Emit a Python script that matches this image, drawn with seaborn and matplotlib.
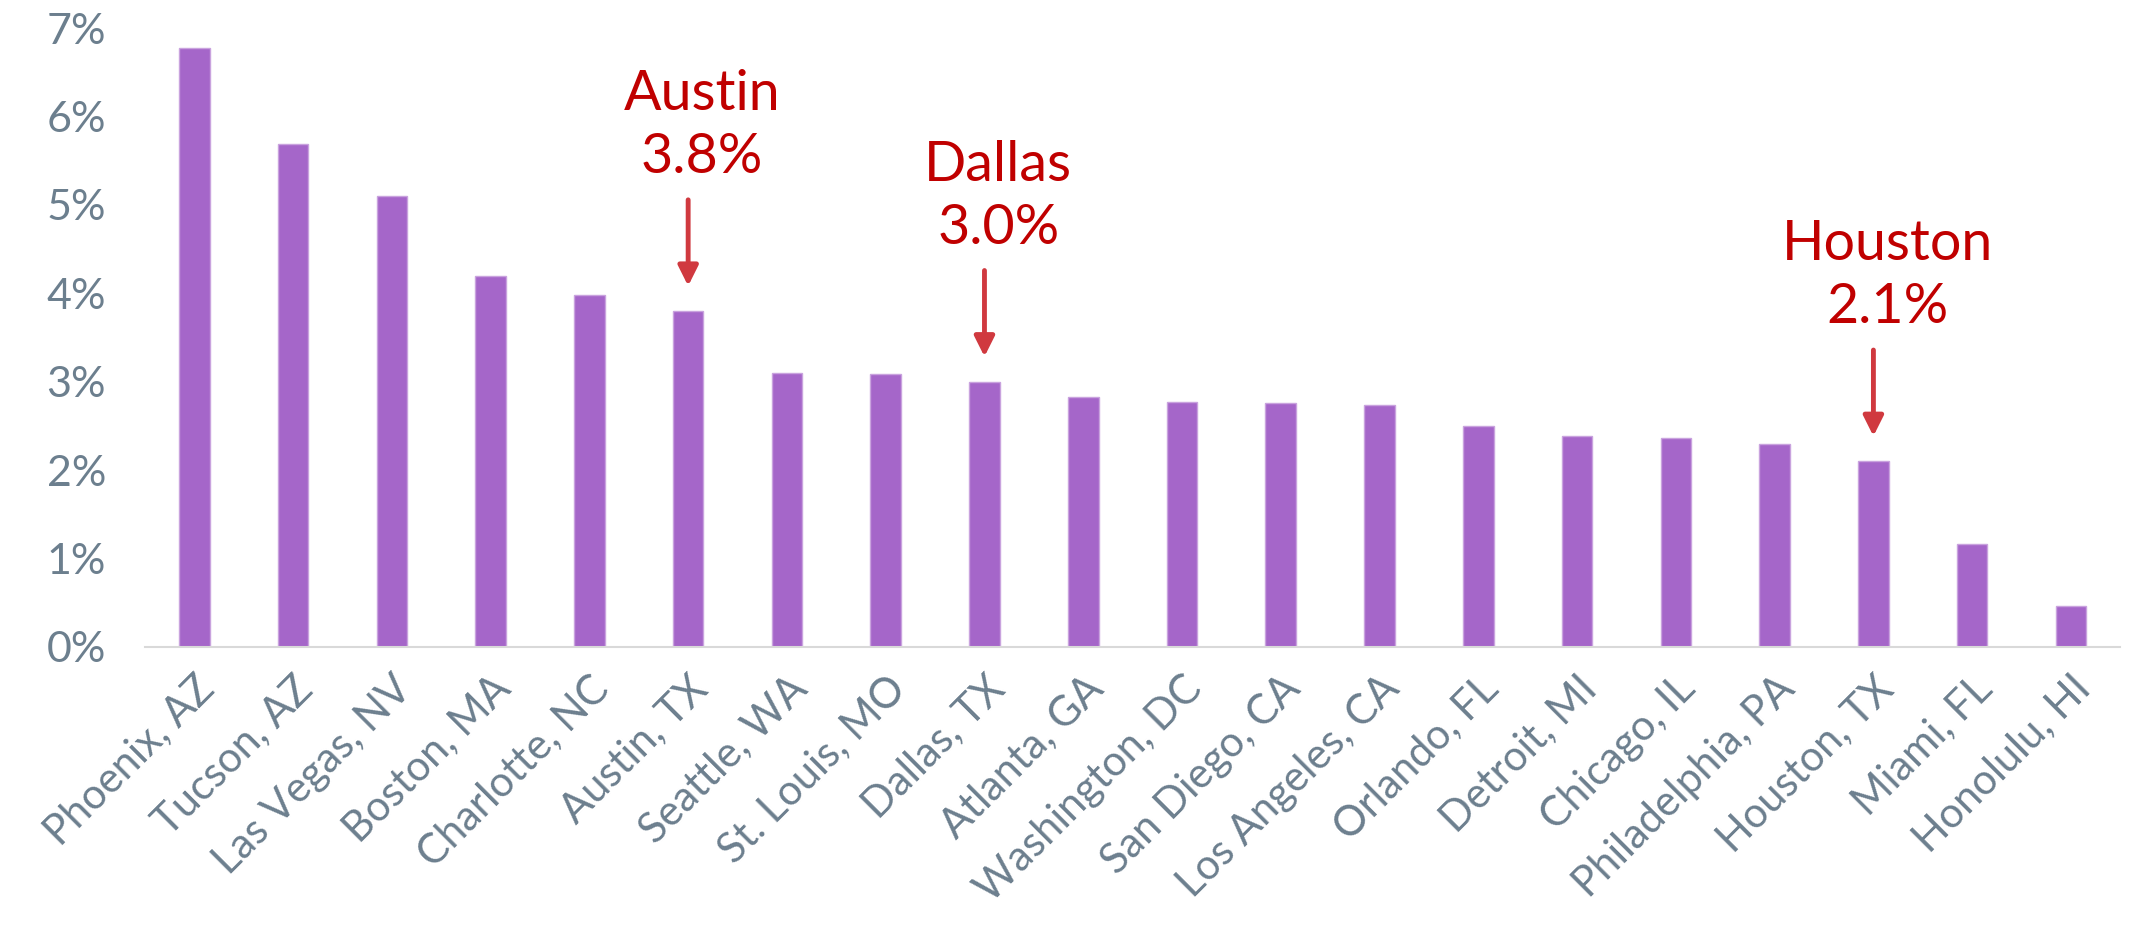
import matplotlib
matplotlib.use('Agg')
import matplotlib.pyplot as plt
import seaborn as sns
import pandas as pd
from matplotlib.ticker import FuncFormatter

cities = ['Phoenix, AZ', 'Tucson, AZ', 'Las Vegas, NV', 'Boston, MA', 'Charlotte, NC',
          'Austin, TX', 'Seattle, WA', 'St. Louis, MO', 'Dallas, TX', 'Atlanta, GA',
          'Washington, DC', 'San Diego, CA', 'Los Angeles, CA', 'Orlando, FL', 'Detroit, MI',
          'Chicago, IL', 'Philadelphia, PA', 'Houston, TX', 'Miami, FL', 'Honolulu, HI']
growth = [6.78, 5.69, 5.10, 4.20, 3.98, 3.80, 3.10, 3.09, 3.00, 2.83,
          2.77, 2.76, 2.74, 2.50, 2.39, 2.36, 2.29, 2.10, 1.16, 0.46]
callouts = ['Austin, TX', 'Dallas, TX', 'Houston, TX']
callout_names = ['Austin', 'Dallas', 'Houston']

BAR = '#A566C9'
TICK = '#6C7F8E'
RED = '#C00000'
ARROW = '#D0393F'

sns.set_style('white')
plt.rcParams['font.family'] = ['Lato', 'DejaVu Sans']

df = pd.DataFrame({'city': cities, 'growth': growth})

fig = plt.figure(figsize=(21.31, 9.40), dpi=100)
ax = fig.add_axes([0.068, 0.312, 0.927, 0.658])

sns.barplot(data=df, x='city', y='growth', color=BAR, width=0.31,
            saturation=1, edgecolor='#C9A3DE', linewidth=1, ax=ax)

ax.set_ylim(0, 7)
ax.set_yticks(range(0, 8))
ax.yaxis.set_major_formatter(FuncFormatter(lambda v, p: f'{v:.0f}%'))
ax.set_xlabel('')
ax.set_ylabel('')

for s in ['top', 'right', 'left']:
    ax.spines[s].set_visible(False)
ax.spines['bottom'].set_color('#D9D9D9')
ax.spines['bottom'].set_linewidth(1.5)

ax.tick_params(axis='y', length=0, pad=28, labelsize=31, labelcolor=TICK)
ax.tick_params(axis='x', length=0, pad=16, labelsize=30, labelcolor=TICK)
for lab in ax.get_xticklabels():
    lab.set_rotation(45)
    lab.set_ha('right')
    lab.set_va('top')
    lab.set_rotation_mode('anchor')

# red callouts with arrows
for name, city in zip(callout_names, callouts):
    i = cities.index(city)
    v = growth[i]
    ax.annotate('', xy=(i, v), xycoords='data',
                xytext=(0, 80), textcoords='offset points',
                arrowprops=dict(arrowstyle='-|>', color=ARROW, lw=3.5,
                                mutation_scale=30, shrinkA=0, shrinkB=18))
    ax.annotate(f'{name}\n{v:.1f}%', xy=(i, v), xycoords='data',
                xytext=(10, 92), textcoords='offset points',
                ha='center', va='bottom', fontsize=40, color=RED,
                linespacing=1.3)

fig.savefig('out.png', dpi=100)
